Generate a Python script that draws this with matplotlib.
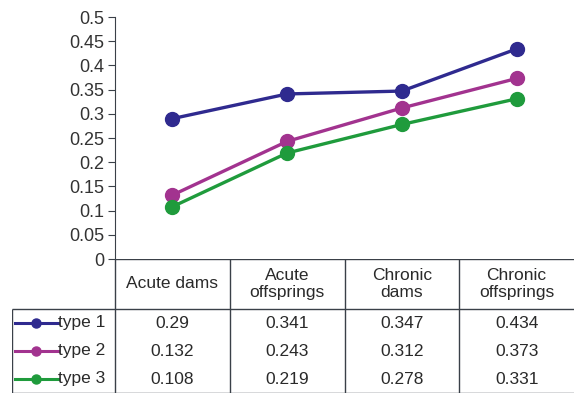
import matplotlib.pyplot as plt

plt.rcParams['font.family'] = ['Liberation Sans', 'DejaVu Sans']

# data
categories = ['Acute dams', 'Acute\noffsprings', 'Chronic\ndams', 'Chronic\noffsprings']
series = ['type 1', 'type 2', 'type 3']
type1 = [0.29, 0.341, 0.347, 0.434]
type2 = [0.132, 0.243, 0.312, 0.373]
type3 = [0.108, 0.219, 0.278, 0.331]
labels1 = ['0.29', '0.341', '0.347', '0.434']
labels2 = ['0.132', '0.243', '0.312', '0.373']
labels3 = ['0.108', '0.219', '0.278', '0.331']
yticks = [0, 0.05, 0.1, 0.15, 0.2, 0.25, 0.3, 0.35, 0.4, 0.45, 0.5]

colors = ['#2f2a8f', '#a2338f', '#1f9b3c']
values = [type1, type2, type3]
cell_text = [labels1, labels2, labels3]
edge = '#3a4048'
txt = '#2a2a2a'

W, H = 574, 394
fig = plt.figure(figsize=(W / 100, H / 100), dpi=100)

# main plot area
ax = fig.add_axes([115 / W, 1 - 259 / H, 459 / W, 242 / H])
x = list(range(len(categories)))
for vals, c in zip(values, colors):
    ax.plot(x, vals, color=c, lw=2.4, marker='o', ms=10, zorder=3)
ax.set_xlim(-0.5, 3.5)
ax.set_ylim(0, 0.5)
ax.set_yticks(yticks)
ax.set_yticklabels([('%g' % v) for v in yticks], fontsize=13, color='#333333')
ax.set_xticks([])
for s in ['top', 'right', 'bottom']:
    ax.spines[s].set_visible(False)
ax.spines['left'].set_color(edge)
ax.tick_params(axis='y', direction='out', length=5, color=edge, pad=3)

# data table below
col_w = 459 / 4
left_x = -0.5 - 103 / col_w
hdr = 50 / 28
tab = fig.add_axes([12 / W, 1 / H, 562 / W, 134 / H])
tab.set_xlim(left_x, 3.5)
tab.set_ylim(0, 3 + hdr)
tab.axis('off')

lw = 1.0
fs = 12.5
tab.hlines(3 + hdr, -0.5, 3.5, color=edge, lw=lw)
tab.hlines(3, left_x, 3.5, color=edge, lw=lw)
tab.hlines(0, left_x, 3.5, color=edge, lw=lw)
tab.vlines(left_x, 0, 3, color=edge, lw=lw)
for i in range(len(categories)):
    tab.vlines(i - 0.5, 0, 3 + hdr, color=edge, lw=lw)
    tab.text(i, 3 + hdr / 2, categories[i], ha='center', va='center',
             fontsize=fs, color=txt, linespacing=1.1)

for r, (name, c, row) in enumerate(zip(series, colors, cell_text)):
    yc = 2.5 - r
    tab.plot([left_x + 0.03, -0.995], [yc, yc], color=c, lw=2.2)
    tab.plot([left_x + 0.21], [yc], color=c, marker='o', ms=6.5)
    tab.text(-1.0, yc, name, ha='left', va='center', fontsize=fs, color=txt)
    for i, s in enumerate(row):
        tab.text(i, yc, s, ha='center', va='center', fontsize=fs, color=txt)

fig.savefig('out.png', dpi=100)
